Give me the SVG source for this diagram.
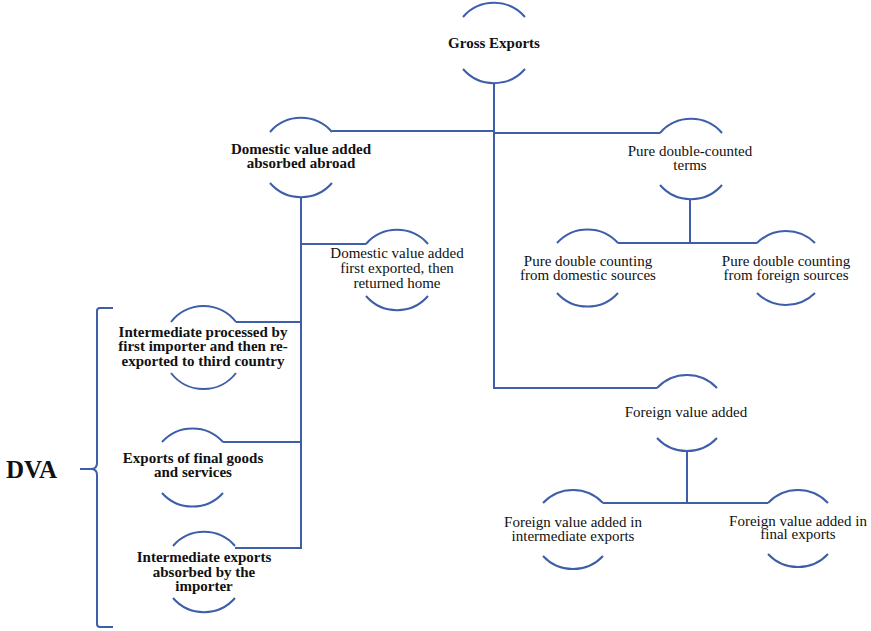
<svg xmlns="http://www.w3.org/2000/svg" width="871" height="631" viewBox="0 0 871 631">
<style>
.arc{fill:none;stroke:#3d5ea9;stroke-width:2}
.ln{fill:none;stroke:#3d5ea9;stroke-width:2}
text{font-family:"Liberation Serif","DejaVu Serif",serif;font-size:15px;fill:#111;text-anchor:middle}
.b{font-weight:bold}
.dva{font-size:25px;font-weight:bold;text-anchor:start}
</style>
<rect width="871" height="631" fill="#fff"/>
<g id="connectors">
<path class="ln" d="M494 83 V388 H657"/>
<path class="ln" d="M332 131 H494"/>
<path class="ln" d="M494 133 H660"/>
<path class="ln" d="M301 197 V548 H235"/>
<path class="ln" d="M301 244 H366"/>
<path class="ln" d="M301 322 H236"/>
<path class="ln" d="M301 442 H223"/>
<path class="ln" d="M690 199 V243"/>
<path class="ln" d="M618 243 H757"/>
<path class="ln" d="M687 452 V503"/>
<path class="ln" d="M603 503 H768"/>
<path class="ln" d="M113 308 H100 Q97 308 97 311 V463 Q97 469 91 469 H80 M91 469 Q97 469 97 475 V624 Q97 627 100 627 H113"/>
</g>
<g id="gross-exports">
<path class="arc" d="M463 17 A41 41 0 0 1 525 17"/>
<path class="arc" d="M463 69 A41 41 0 0 0 525 69"/>
<text class="b" x="494" y="48">Gross Exports</text>
</g>
<g id="dva-absorbed">
<path class="arc" d="M270 132 A41 41 0 0 1 332 132"/>
<path class="arc" d="M270 183 A41 41 0 0 0 332 183"/>
<text class="b" x="301" y="154">Domestic value added</text>
<text class="b" x="301" y="168">absorbed abroad</text>
</g>
<g id="dva-returned">
<path class="arc" d="M366 244 A41 41 0 0 1 428 244"/>
<path class="arc" d="M366 296 A41 41 0 0 0 428 296"/>
<text x="397" y="258">Domestic value added</text>
<text x="397" y="273">first exported, then</text>
<text x="397" y="288">returned home</text>
</g>
<g id="pure-double">
<path class="arc" d="M660 133 A41 41 0 0 1 722 133"/>
<path class="arc" d="M660 185 A41 41 0 0 0 722 185"/>
<text x="690" y="156">Pure double-counted</text>
<text x="690" y="170">terms</text>
</g>
<g id="pure-domestic">
<path class="arc" d="M557 243 A41 41 0 0 1 618 243"/>
<path class="arc" d="M557 293 A41 41 0 0 0 618 293"/>
<text x="588" y="266">Pure double counting</text>
<text x="588" y="280">from domestic sources</text>
</g>
<g id="pure-foreign">
<path class="arc" d="M757 243 A41 41 0 0 1 815 243"/>
<path class="arc" d="M757 293 A41 41 0 0 0 815 293"/>
<text x="786" y="266">Pure double counting</text>
<text x="786" y="280">from foreign sources</text>
</g>
<g id="foreign-va">
<path class="arc" d="M657 388 A41 41 0 0 1 717 388"/>
<path class="arc" d="M657 438 A41 41 0 0 0 717 438"/>
<text x="686" y="417">Foreign value added</text>
</g>
<g id="fva-intermediate">
<path class="arc" d="M543 503 A41 41 0 0 1 603 503"/>
<path class="arc" d="M543 556 A41 41 0 0 0 603 556"/>
<text x="573" y="527">Foreign value added in</text>
<text x="573" y="541">intermediate exports</text>
</g>
<g id="fva-final">
<path class="arc" d="M768 503 A41 41 0 0 1 828 503"/>
<path class="arc" d="M768 554 A41 41 0 0 0 828 554"/>
<text x="798" y="526">Foreign value added in</text>
<text x="798" y="539">final exports</text>
</g>
<g id="intermediate-reexported">
<path class="arc" d="M171 322 A41 41 0 0 1 236 322"/>
<path class="arc" d="M171 373 A41 41 0 0 0 236 373"/>
<text class="b" x="203" y="337">Intermediate processed by</text>
<text class="b" x="203" y="351">first importer and then re-</text>
<text class="b" x="203" y="366">exported to third country</text>
</g>
<g id="final-goods">
<path class="arc" d="M162 442 A41 41 0 0 1 223 442"/>
<path class="arc" d="M162 493 A41 41 0 0 0 223 493"/>
<text class="b" x="193" y="463">Exports of final goods</text>
<text class="b" x="193" y="477">and services</text>
</g>
<g id="intermediate-absorbed">
<path class="arc" d="M173 546 A41 41 0 0 1 235 546"/>
<path class="arc" d="M173 598 A41 41 0 0 0 235 598"/>
<text class="b" x="204" y="562">Intermediate exports</text>
<text class="b" x="204" y="577">absorbed by the</text>
<text class="b" x="204" y="591">importer</text>
</g>
<g id="dva-label">
<text class="dva" x="6" y="478">DVA</text>
</g>
</svg>
